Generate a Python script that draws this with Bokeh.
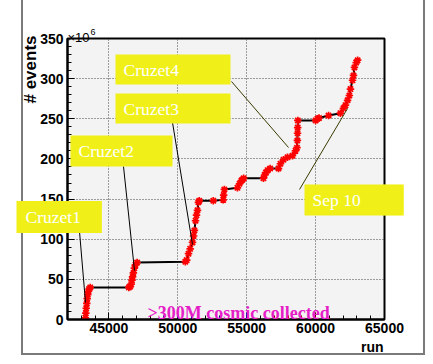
from math import pi
from bokeh.plotting import figure
from bokeh.models import (Label, BoxAnnotation, SingleIntervalTicker,
                          BasicTickFormatter, Range1d, ColumnDataSource,
                          InlineStyleSheet)
from bokeh.embed import file_html
from bokeh.resources import INLINE

# ---- data (run number, cumulative events in units of 10^6) ----
runs = [43300, 43330, 43360, 43400, 43430, 43470, 43520, 43570, 43650,
        46450, 46550, 46620, 46680, 46720, 46780, 46850, 46930, 47050,
        50550, 50650, 50780, 50900, 51070, 51150, 51210, 51290, 51360, 51430, 51500, 51560,
        52580, 53300, 53330, 53380, 54330, 54480, 54620, 54700, 54780,
        56220, 56300, 56400, 56520, 56700, 57310, 57450, 57670, 57960, 58320, 58540,
        58650, 58680, 58690, 58700, 58710,
        60000, 60140, 60250, 60940, 61800, 62020, 62170, 62320, 62450, 62530,
        62680, 62750, 62820, 62950, 63050]
events = [2, 8, 14, 20, 26, 31, 35, 38, 40,
          40, 41, 44, 49, 53, 58, 64, 68, 71,
          72, 74, 82, 88, 96, 104, 111, 123, 130, 136, 146, 148,
          148, 149, 155, 162, 164, 169, 173, 174, 176,
          176, 180, 183, 186, 188, 188, 194, 199, 202, 204, 210,
          214, 223, 232, 239, 248,
          248, 250, 251, 254, 257, 263, 267, 273, 279, 287,
          298, 304, 314, 320, 323]

annot_names = ["Cruzet4", "Cruzet3", "Cruzet2", "Cruzet1", "Sep 10"]
note_text = ">300M cosmic collected"
x_label = "run"
y_label = "# events"

X_START, X_END = 42000, 65000
Y_START, Y_END = 0, 350

# ---- layout (pixel geometry of the reference) ----
FRAME_L, FRAME_W, FRAME_T, FRAME_H = 67, 317, 38, 281
FRAME_B = FRAME_T + FRAME_H
YELLOW = "#f0f018"


def rx(px):
    return X_START + (px - FRAME_L) * (X_END - X_START) / FRAME_W


def vy(py):
    return (FRAME_B - py) * (Y_END - Y_START) / FRAME_H


p = figure(frame_width=FRAME_W, frame_height=FRAME_H,
           min_border_left=FRAME_L, min_border_right=41,
           min_border_top=FRAME_T, min_border_bottom=37,
           x_range=Range1d(X_START, X_END), y_range=Range1d(Y_START, Y_END),
           output_backend="svg", toolbar_location=None)
p.background_fill_color = "#f3f3f3"
p.border_fill_color = "white"
p.border_fill_alpha = 0
p.outline_line_color = "black"
p.outline_line_width = 2

# grey canvas border of the original screenshot
p.stylesheets = [InlineStyleSheet(css="""
:host { position: relative; }
:host::after { content: ""; position: absolute; left: 21px; top: -4px;
  width: 404px; height: 359px; border: 2px solid #7a7a7a;
  box-sizing: border-box; pointer-events: none; z-index: -1; }
""")]

p.xaxis.ticker = SingleIntervalTicker(interval=5000, num_minor_ticks=5)
p.yaxis.ticker = SingleIntervalTicker(interval=50, num_minor_ticks=5)
p.xaxis.formatter = BasicTickFormatter(use_scientific=False)
for ax in (p.xaxis, p.yaxis):
    ax.major_tick_in = 7
    ax.major_tick_out = 0
    ax.minor_tick_in = 4
    ax.minor_tick_out = 0
    ax.major_tick_line_color = "black"
    ax.minor_tick_line_color = "black"
    ax.axis_line_color = "black"
    ax.axis_line_width = 2
    ax.major_label_text_font = "Liberation Sans"
    ax.major_label_text_font_style = "bold"
    ax.major_label_text_font_size = "14px"
    ax.major_label_text_color = "black"
p.xaxis.major_label_standoff = 3
p.yaxis.major_label_standoff = 4

for g in (p.xgrid, p.ygrid):
    g.grid_line_color = "#444444"
    g.grid_line_dash = "1 2"
    g.grid_line_width = 1
p.xgrid.ticker = SingleIntervalTicker(interval=5000)
p.ygrid.ticker = SingleIntervalTicker(interval=50)

src = ColumnDataSource(dict(run=runs, ev=events))
p.line("run", "ev", source=src, line_color="black", line_width=2)
p.scatter("run", "ev", source=src, marker="asterisk", size=7.5,
          line_color="red", line_width=1.7)

# connectors (pixel geometry of reference)
conn = [((231, 81), (288, 147), "#3a3a00"),
        ((172, 122), (192, 244), "black"),
        ((123, 166), (134, 270), "black"),
        ((79, 231), (85, 302), "black"),
        ((299, 189), (347, 108), "#3a3a00")]
p.segment(x0=[rx(a[0]) for a, b, c in conn], y0=[vy(a[1]) for a, b, c in conn],
          x1=[rx(b[0]) for a, b, c in conn], y1=[vy(b[1]) for a, b, c in conn],
          line_color=[c for a, b, c in conn], line_width=1)

TXT = dict(text_font="Liberation Serif", text_font_size="17.5px",
           text_color="white", text_baseline="middle")

# boxes inside the frame
boxes = {"Cruzet4": (115, 230, 54, 84), "Cruzet3": (115, 230, 93, 123),
         "Cruzet2": (70, 172, 135, 166), "Sep 10": (304, 403, 184, 215)}
for name in ["Cruzet4", "Cruzet3", "Cruzet2", "Sep 10"]:
    l, r, t, b = boxes[name]
    p.add_layout(BoxAnnotation(left=rx(l), right=rx(r), top=vy(t), bottom=vy(b),
                               fill_color=YELLOW, fill_alpha=1, line_alpha=0))
    p.add_layout(Label(x=rx(l + 8), y=vy((t + b) / 2), text=name, **TXT))

# Cruzet1 box reaches outside the frame: a label with its own background
p.add_layout(Label(x=16, y=216.5, x_units="canvas", y_units="canvas",
                   text=annot_names[3], background_fill_color=YELLOW,
                   padding=dict(left=9, right=21, top=6, bottom=6), **TXT), "above")
# right part of the Sep 10 box, outside the frame
p.add_layout(Label(x=383, y=199.5, x_units="canvas", y_units="canvas", text=" ",
                   text_font_size="1px", text_baseline="middle",
                   background_fill_color=YELLOW,
                   padding=dict(left=0, right=20, top=15, bottom=15)), "right")

p.add_layout(Label(x=rx(147), y=vy(312), text=note_text,
                   text_font="Liberation Serif", text_font_size="18px",
                   text_font_style="bold", text_color="#e61ec8",
                   text_baseline="alphabetic"))
p.add_layout(Label(x=383, y=346, x_units="canvas", y_units="canvas", text=x_label,
                   text_align="right", text_color="black",
                   text_font="Liberation Sans", text_font_style="bold",
                   text_font_size="14px", text_baseline="alphabetic"), "below")
p.add_layout(Label(x=30, y=35, x_units="canvas", y_units="canvas", text=y_label,
                   angle=pi / 2, text_color="black",
                   text_align="right", text_baseline="middle",
                   text_font="Liberation Sans", text_font_style="bold",
                   text_font_size="17px"), "right")
p.add_layout(Label(x=67, y=37, x_units="canvas", y_units="canvas", text="×10",
                   text_font="Liberation Sans", text_color="black",
                   text_font_size="13px", text_baseline="alphabetic"), "left")
p.add_layout(Label(x=90, y=31, x_units="canvas", y_units="canvas", text="6",
                   text_font="Liberation Sans", text_color="black",
                   text_font_size="9px", text_baseline="alphabetic"), "left")

open("out.html", "w").write(file_html(p, INLINE))
